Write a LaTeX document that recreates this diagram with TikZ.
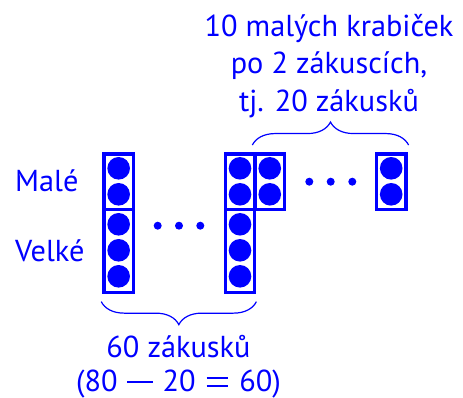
\documentclass[tikz,border=0pt]{standalone}
\usepackage{fontspec}
\setmainfont{PT Sans}
\usetikzlibrary{decorations.pathreplacing,calc}
\definecolor{ink}{RGB}{0,0,255}
% long minus and equals signs built from rules, sitting on the math axis
\newcommand{\longminus}{\hspace{0.32em}\rule[0.27em]{0.84em}{0.072em}\hspace{0.32em}}
\newcommand{\longequals}{\hspace{0.36em}\makebox[0.72em][l]{\rule[0.15em]{0.72em}{0.072em}\hspace{-0.72em}\rule[0.40em]{0.72em}{0.072em}}\hspace{0.36em}}
\begin{document}
\begin{tikzpicture}[x=1pt,y=-1pt,
  box/.style={draw=ink, line width=3.3pt, minimum width=29.5pt, inner sep=0pt},
  smallbox/.style={box, minimum height=55.3pt},
  bigbox/.style={box, minimum height=83.4pt},
  cake/.style={circle, fill=ink, minimum size=22.6pt, inner sep=0pt},
  dot/.style={circle, fill=ink, minimum size=8pt, inner sep=0pt},
  lbl/.style={text=ink, font=\fontsize{30.3}{37.5}\selectfont, inner sep=0pt},
  brc/.style={draw=ink, line width=1.2pt, decorate, decoration={brace, amplitude=23pt}}]
\useasboundingbox (0,0) rectangle (463,398);

% boxes: small (2 cakes) on top, big (3 cakes) below
\node[smallbox] (s1) at (118.65,181.65) {};
\node[bigbox]   (b1) at (118.65,251) {};
\node[smallbox] (s2) at (240,181.65) {};
\node[bigbox]   (b2) at (240,251) {};
\node[smallbox] (s3) at (269.75,181.65) {};
\node[smallbox] (s4) at (391.2,181.65) {};

% cakes
\foreach \bx/\cx in {s1/118.65,s2/240,s3/269.75,s4/391.2}
  \foreach \cy [count=\k] in {168.3,194.3}
    \node[cake] (\bx-c\k) at (\cx,\cy) {};
\foreach \bx/\cx in {b1/118.65,b2/240}
  \foreach \cy [count=\k] in {224.3,250.3,276.3}
    \node[cake] (\bx-c\k) at (\cx,\cy) {};

% ellipses
\foreach \x [count=\k] in {157.7,179,200.3}
  \node[dot] (ld\k) at (\x,225.7) {};
\foreach \x [count=\k] in {309.3,330.7,352.3}
  \node[dot] (rd\k) at (\x,181.7) {};

% braces
\coordinate (tbL) at ($(s3.north west)+(-1,-7.3)$);
\coordinate (tbR) at ($(s4.north east)+(1,-7.3)$);
\draw[brc] (tbL) -- (tbR);
\coordinate (bbL) at ($(b1.south west)+(-1,7.3)$);
\coordinate (bbR) at ($(b2.south east)+(0,7.3)$);
\draw[brc] (bbR) -- (bbL);

% labels (the base anchor of the three-line block is its last line)
\node[lbl, anchor=base, align=center] (top) at (329,111.5)
  {10 malých krabiček\\po 2 zákuscích,\\tj. 20 zákusků};
\node[lbl, anchor=base west] (male) at (15,191.7) {Malé};
\node[lbl, anchor=base west] (velke) at (15,261.7) {Velké};
\node[lbl, anchor=base] (sum) at (178.5,357) {60 zákusků};
\node[lbl, anchor=base] (calc) at (178.5,391.5) {(80\longminus 20\longequals 60)};
\end{tikzpicture}
\end{document}
